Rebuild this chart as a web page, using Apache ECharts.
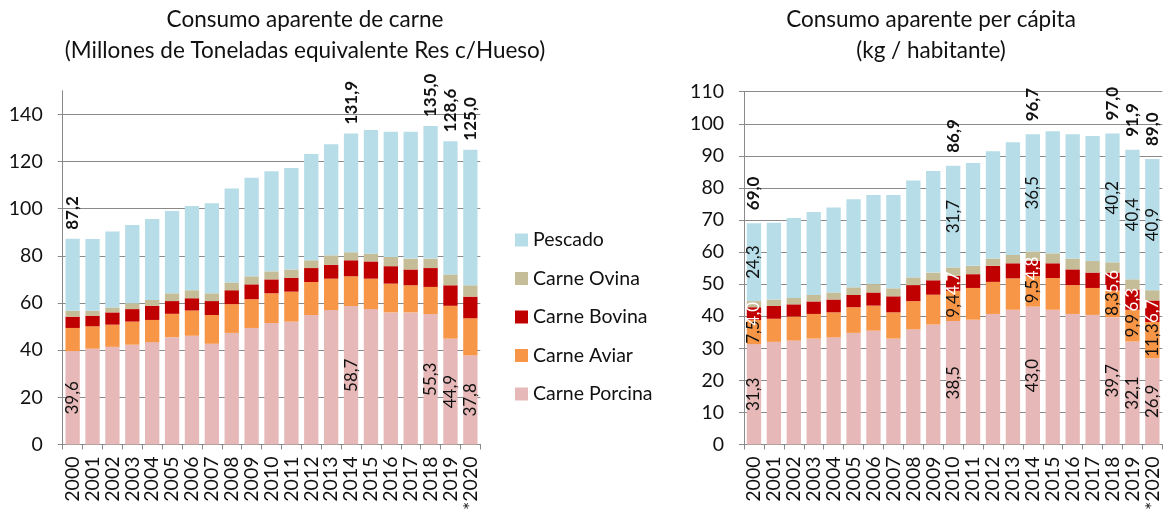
<!DOCTYPE html>
<html>
<head>
<meta charset="utf-8">
<script src="https://cdn.jsdelivr.net/npm/echarts@6/dist/echarts.min.js"></script>
<style>
  html, body { margin: 0; padding: 0; background: #fff; }
  #chart { width: 1164px; height: 513px; }
</style>
</head>
<body>
<div id="chart"></div>
<script>
const years = ['2000','2001','2002','2003','2004','2005','2006','2007','2008','2009','2010',
  '2011','2012','2013','2014','2015','2016','2017','2018','2019','*2020'];

// Consumo aparente (millones de toneladas)
const leftPorcina = [39.6,40.6,41.4,42.3,43.4,45.5,46.1,42.7,47.3,49.4,51.5,52.1,54.9,57.0,58.7,57.4,56.0,56.0,55.3,44.9,37.8];
const leftAviar   = [9.8,9.5,9.4,9.8,9.4,9.9,10.7,12.2,12.2,12.2,12.6,12.7,14.0,13.3,12.6,12.9,12.2,11.5,11.5,13.9,15.7];
const leftBovina  = [4.8,4.5,5.2,5.3,6.0,5.4,5.2,5.9,5.9,6.3,5.9,5.9,5.9,5.9,6.8,7.3,7.4,6.7,8.0,8.7,9.2];
const leftOvina   = [2.5,2.1,2.1,2.5,2.5,3.3,3.4,3.3,3.3,3.4,3.4,3.5,3.3,4.0,3.4,3.3,3.9,4.6,4.0,4.6,4.8];
const leftPescado = [30.5,30.4,32.2,33.2,34.3,34.9,35.7,38.2,39.8,41.8,42.4,43.0,45.1,47.1,50.4,52.4,53.1,53.8,56.2,56.5,57.5];

// Consumo per capita (kg / habitante)
const rightPorcina = [31.3,32.0,32.4,33.0,33.4,34.8,35.5,33.0,35.9,37.4,38.5,38.9,40.7,42.0,43.0,42.0,40.7,40.4,39.7,32.1,26.9];
const rightAviar   = [7.5,7.2,7.5,7.7,7.8,8.0,7.8,8.2,8.8,9.3,9.4,9.9,10.0,9.8,9.5,9.9,9.0,8.4,8.3,9.9,11.3];
const rightBovina  = [4.0,4.0,3.8,3.9,4.0,3.8,4.1,5.0,5.0,4.5,4.7,4.3,5.0,4.7,4.8,4.6,4.9,4.8,5.6,6.3,6.7];
const rightOvina   = [1.9,2.0,2.0,2.0,2.2,2.4,2.6,2.5,2.4,2.4,2.6,2.6,2.3,2.6,2.9,3.1,3.4,3.6,3.2,3.2,3.2];
const rightPescado = [24.3,23.9,24.9,25.9,26.5,27.5,27.8,29.1,30.2,31.7,31.7,32.1,33.4,35.1,36.5,38.1,38.7,39.0,40.2,40.4,40.9];

const leftTicks = [0,20,40,60,80,100,120,140];
const rightTicks = [0,10,20,30,40,50,60,70,80,90,100,110];

const leftLabelYears = ['2000','2014','2018','2019','*2020'];
const rightLabelYears = ['2000','2010','2014','2018','2019','*2020'];

const names = ['Carne Porcina','Carne Aviar','Carne Bovina','Carne Ovina','Pescado'];
const colors = ['#e6b9b8','#f79646','#c00000','#c4bd97','#b7dee8'];

const FONT = 'Lato';
const gridColor = '#8a8a8a';

const fmt = v => v.toFixed(1).replace('.', ',');

function insideLabel(labelYears, color) {
  return {
    show: true,
    position: 'inside',
    rotate: 90,
    color: color,
    fontFamily: FONT,
    fontSize: 17,
    formatter: p => labelYears.includes(p.name) ? fmt(p.value) : ''
  };
}

function buildSeries(idx, stack, data, labelYears, labelFlags, totalDist) {
  const out = data.map((arr, i) => ({
    name: names[i],
    type: 'bar',
    stack: stack,
    xAxisIndex: idx,
    yAxisIndex: idx,
    barCategoryGap: '28%',
    barGap: '-100%',
    data: arr,
    itemStyle: { color: colors[i] },
    label: labelFlags[i] ? insideLabel(labelYears, i === 2 ? '#fff' : '#111') : { show: false },
    emphasis: { disabled: true }
  }));
  // transparent bar behind the stack, as tall as the sum, carrying the total label
  const totals = years.map((_, j) => data.reduce((t, arr) => t + arr[j], 0));
  out.unshift({
    name: 'total',
    type: 'bar',
    xAxisIndex: idx,
    yAxisIndex: idx,
    barCategoryGap: '28%',
    barGap: '-100%',
    z: 1,
    data: totals,
    itemStyle: { color: 'rgba(0,0,0,0)' },
    label: {
      show: true,
      position: 'top',
      distance: totalDist,
      rotate: 90,
      align: 'left',
      verticalAlign: 'middle',
      fontFamily: FONT,
      fontSize: 17,
      fontWeight: 'bold',
      color: '#111',
      formatter: p => labelYears.includes(p.name) ? fmt(p.value) : ''
    },
    emphasis: { disabled: true }
  });
  return out;
}

const leftSeries = buildSeries(0, 'L',
  [leftPorcina, leftAviar, leftBovina, leftOvina, leftPescado],
  leftLabelYears, [true, false, false, false, false], 9);

const rightSeries = buildSeries(1, 'R',
  [rightPorcina, rightAviar, rightBovina, rightOvina, rightPescado],
  rightLabelYears, [true, true, true, false, true], 13);

const xAxisBase = {
  type: 'category',
  data: years,
  axisLine: { lineStyle: { color: gridColor, width: 1 } },
  axisTick: { show: true, length: 5, lineStyle: { color: gridColor } },
  axisLabel: {
    rotate: 90, margin: 12, color: '#111', fontFamily: FONT, fontSize: 19.5, interval: 0
  },
  splitLine: { show: false }
};

function yAxisBase(max, interval, ticks) {
  return {
    type: 'value',
    min: 0,
    max: max,
    interval: interval,
    axisLine: { show: true, lineStyle: { color: gridColor, width: 1 } },
    axisTick: { show: true, length: 5, lineStyle: { color: gridColor }, customValues: ticks },
    axisLabel: { margin: 20, color: '#111', fontFamily: FONT, fontSize: 19.5, customValues: ticks },
    splitLine: { show: true, lineStyle: { color: gridColor, width: 1 } }
  };
}

const chart = echarts.init(document.getElementById('chart'), null, { renderer: 'canvas' });

chart.setOption({
  animation: false,
  backgroundColor: '#fff',
  textStyle: { fontFamily: FONT },
  title: [
    {
      text: 'Consumo aparente de carne\n(Millones de Toneladas equivalente Res c/Hueso)',
      left: 300, top: -1, textAlign: 'center',
      textStyle: { fontFamily: FONT, fontSize: 22.5, fontWeight: 'normal', color: '#111', lineHeight: 31 }
    },
    {
      text: 'Consumo aparente per cápita\n(kg / habitante)',
      left: 926, top: -1, textAlign: 'center',
      textStyle: { fontFamily: FONT, fontSize: 22.5, fontWeight: 'normal', color: '#111', lineHeight: 31 }
    }
  ],
  legend: {
    orient: 'vertical',
    left: 510,
    top: 225,
    itemWidth: 13,
    itemHeight: 13,
    itemGap: 18.5,
    icon: 'rect',
    selectedMode: false,
    data: ['Pescado','Carne Ovina','Carne Bovina','Carne Aviar','Carne Porcina'],
    textStyle: { fontFamily: FONT, fontSize: 19.5, color: '#111', lineHeight: 19 }
  },
  grid: [
    { left: 62.7, right: 683.7, top: 90.7, bottom: 66.3 },
    { left: 744, right: 1.7, top: 91.7, bottom: 66.3 }
  ],
  xAxis: [
    Object.assign({ gridIndex: 0 }, xAxisBase),
    Object.assign({ gridIndex: 1 }, xAxisBase)
  ],
  yAxis: [
    Object.assign({ gridIndex: 0 }, yAxisBase(150, 10, leftTicks)),
    Object.assign({ gridIndex: 1 }, yAxisBase(110, 10, rightTicks))
  ],
  series: leftSeries.concat(rightSeries)
});
</script>
</body>
</html>
